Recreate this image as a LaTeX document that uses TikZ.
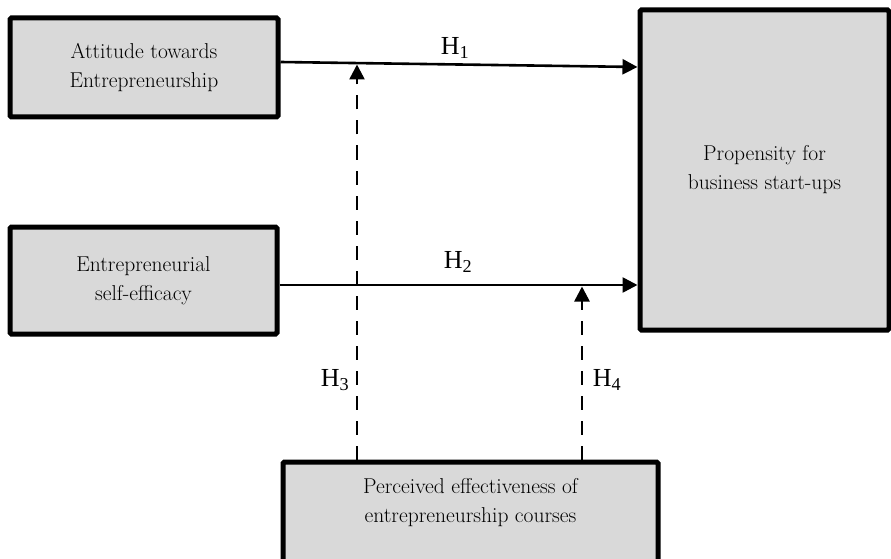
\documentclass[tikz,border=0pt]{standalone}
\usepackage{fontspec}
\newfontfamily\hfont{Liberation Serif}
\usetikzlibrary{arrows.meta}
\definecolor{boxgray}{HTML}{D9D9D9}
\begin{document}
\begin{tikzpicture}[x=1pt,y=-1pt,
  box/.style={draw=black, line width=5pt, fill=boxgray, rounded corners=1.5pt, align=center, font=\fontsize{21.5}{29}\selectfont, inner sep=0pt},
  btext/.style={align=center, font=\fontsize{21.5}{29}\selectfont, inner sep=0pt},
  conn/.style={line width=2.6pt, -{Triangle[length=15pt,width=15pt]}},
  dconn/.style={conn, dash pattern=on 14pt off 11pt},
  hlab/.style={font=\hfont\fontsize{26}{30}\selectfont, inner sep=0pt}]
\useasboundingbox (0,0) rectangle (891,559);
\clip (0,0) rectangle (891,559);
% boxes
\node[box, minimum width=268pt, minimum height=99pt] (att) at (144,67.5) {Attitude towards\\Entrepreneurship};
\node[box, minimum width=267pt, minimum height=107pt] (ese) at (143.5,280.5) {Entrepreneurial\\self-efficacy};
\node[box, minimum width=249pt, minimum height=320pt] (prop) at (764.5,170) {Propensity for\\business start-ups};
\node[box, minimum width=375pt, minimum height=140pt] (pec) at (470.5,532) {};
\node[btext] (pectext) at (470.5,503) {Perceived effectiveness of\\entrepreneurship courses};
% junctions
\coordinate (j1) at (357,64.5);
\coordinate (j2) at (582,286.5);
% connectors
\draw[conn] ([yshift=5.5pt]att.east) -- (prop.west |- 0,67);
\draw[conn] (ese.east |- 0,285) -- (prop.west |- 0,285);
\draw[dconn] (pec.north -| j1) -- (j1);
\draw[dconn] (pec.north -| j2) -- (j2);
% labels
\node[hlab] (h1) at (455,48) {H\textsubscript{1}};
\node[hlab] (h2) at (458,262) {H\textsubscript{2}};
\node[hlab] (h3) at (335,380) {H\textsubscript{3}};
\node[hlab] (h4) at (607,380) {H\textsubscript{4}};
\end{tikzpicture}
\end{document}
